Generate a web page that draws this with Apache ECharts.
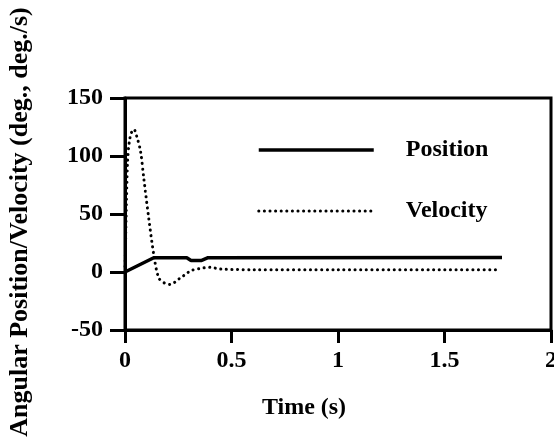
<!DOCTYPE html>
<html>
<head>
<meta charset="utf-8">
<script src="https://cdn.jsdelivr.net/npm/echarts@6/dist/echarts.min.js"></script>
<style>html,body{margin:0;padding:0;background:#fff}#c{width:554px;height:439px}</style>
</head>
<body>
<div id="c"></div>
<script>
var positionTime = [0, 0.135, 0.29, 0.31, 0.36, 0.39, 1.77];
var positionValues = [0, 12.3, 12.3, 10, 10, 12.3, 12.5];
var velocityTime = [0, 0.005, 0.012, 0.02, 0.03, 0.042, 0.055, 0.073, 0.088, 0.111, 0.135, 0.158, 0.185, 0.213, 0.24, 0.26, 0.285, 0.307, 0.35, 0.40, 0.45, 0.6, 1.0, 1.75];
var velocityValues = [0, 45, 95, 112, 120, 123, 117, 104, 81, 47, 15, -5, -9.5, -10.7, -8, -5, -2, 1, 3, 4, 2.5, 2, 2, 2];
var xTicks = [0, 0.5, 1, 1.5, 2];
var yTicks = [-50, 0, 50, 100, 150];
var seriesNames = ['Position', 'Velocity'];
var xTitle = 'Time (s)';
var yTitle = 'Angular Position/Velocity (deg., deg./s)';

function zip(a, b) { return a.map(function (v, i) { return [v, b[i]]; }); }

var font = 'Liberation Serif';
var posLine = { color: '#000', width: 3.5 };
var velLine = { color: '#000', width: 3, type: [0.1, 5.5], cap: 'round' };
var chart = echarts.init(document.getElementById('c'));
chart.setOption({
  animation: false,
  backgroundColor: '#fff',
  grid: { left: 125, right: 3, top: 98, bottom: 109, show: true, borderColor: '#000', borderWidth: 3,
    outerBoundsMode: 'none', containLabel: false },
  legend: {
    orient: 'vertical', left: 252, top: 133, itemWidth: 115, itemHeight: 30, itemGap: 37,
    itemStyle: { opacity: 0 },
    data: [
      { name: seriesNames[0], lineStyle: posLine },
      { name: seriesNames[1], lineStyle: velLine }
    ],
    textStyle: { fontFamily: font, fontWeight: 'bold', fontSize: 24, color: '#000', padding: [0, 0, 0, 27] }
  },
  xAxis: {
    type: 'value', min: xTicks[0], max: xTicks[xTicks.length - 1], interval: 0.5,
    name: xTitle, nameLocation: 'middle', nameGap: 66,
    nameTextStyle: { fontFamily: font, fontWeight: 'bold', fontSize: 24, color: '#000', padding: [0, 68, 0, 0] },
    axisLine: { onZero: false, lineStyle: { color: '#000', width: 3 } },
    axisTick: { length: 13, lineStyle: { color: '#000', width: 3 } },
    axisLabel: { margin: 19, fontFamily: font, fontWeight: 'bold', fontSize: 24, color: '#000',
      formatter: function (v) { return String(v); } },
    splitLine: { show: false }
  },
  yAxis: {
    type: 'value', min: yTicks[0], max: yTicks[yTicks.length - 1], interval: 50,
    name: yTitle, nameLocation: 'middle', nameGap: 92,
    nameTextStyle: { fontFamily: font, fontWeight: 'bold', fontSize: 26, color: '#000', padding: [0, 16, 0, 0] },
    axisLine: { onZero: false, lineStyle: { color: '#000', width: 3 } },
    axisTick: { length: 15, lineStyle: { color: '#000', width: 3 } },
    axisLabel: { margin: 22, fontFamily: font, fontWeight: 'bold', fontSize: 24, color: '#000' },
    splitLine: { show: false }
  },
  series: [
    { name: seriesNames[0], type: 'line', data: zip(positionTime, positionValues), showSymbol: false, symbol: 'none',
      lineStyle: posLine, itemStyle: { color: '#000' } },
    { name: seriesNames[1], type: 'line', data: zip(velocityTime, velocityValues), showSymbol: false, symbol: 'none', smooth: 0.3,
      lineStyle: velLine, itemStyle: { color: '#000' } }
  ]
});
</script>
</body>
</html>
